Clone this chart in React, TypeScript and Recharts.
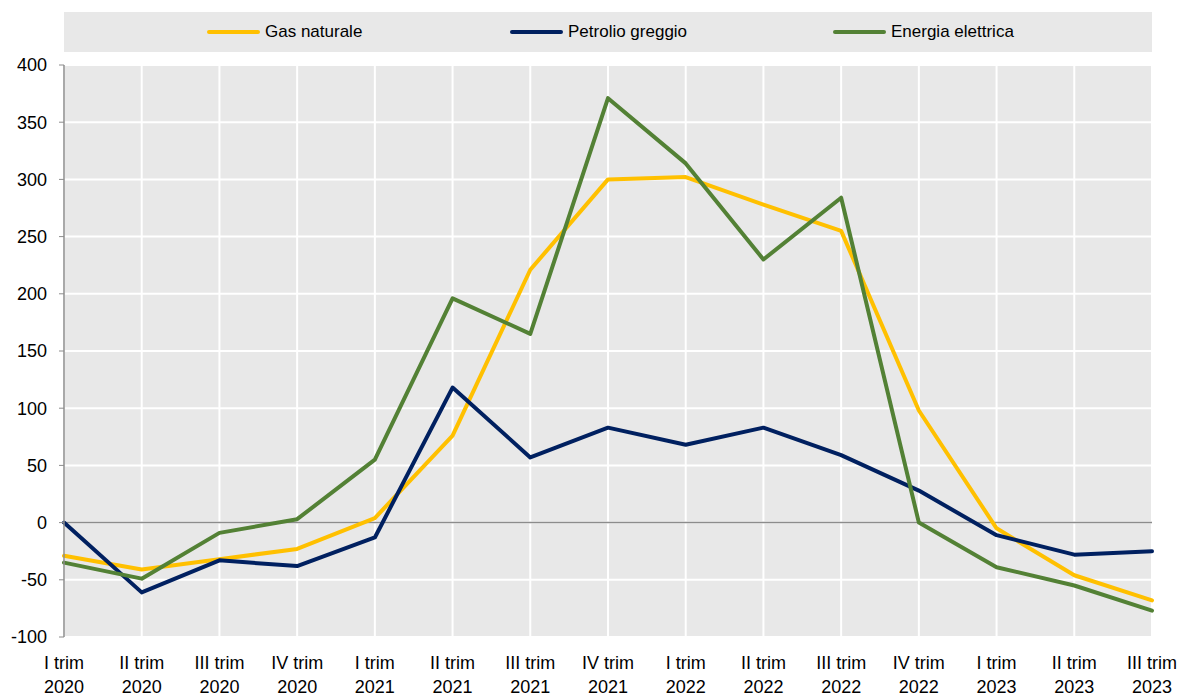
import React from 'react'
import {
  LineChart,
  Line,
  XAxis,
  YAxis,
  CartesianGrid,
  ReferenceLine,
} from 'recharts'

const quarters = ['I', 'II', 'III', 'IV', 'I', 'II', 'III', 'IV', 'I', 'II', 'III', 'IV', 'I', 'II', 'III']
const years = ['2020', '2020', '2020', '2020', '2021', '2021', '2021', '2021', '2022', '2022', '2022', '2022', '2023', '2023', '2023']

const gasNaturale = [-29, -41, -32, -23, 4, 76, 221, 300, 302, 278, 255, 98, -5, -46, -68]
const petrolioGreggio = [0, -61, -33, -38, -13, 118, 57, 83, 68, 83, 59, 28, -11, -28, -25]
const energiaElettrica = [-35, -49, -9, 3, 55, 196, 165, 371, 314, 230, 284, 0, -39, -55, -77]

const yTicks = [-100, -50, 0, 50, 100, 150, 200, 250, 300, 350, 400]

const series = [
  { key: 'gas', name: 'Gas naturale', color: '#FFC000' },
  { key: 'oil', name: 'Petrolio greggio', color: '#002060' },
  { key: 'elec', name: 'Energia elettrica', color: '#538135' },
]

const chartData = quarters.map((q, i) => ({
  label: `${q} trim|${years[i]}`,
  gas: gasNaturale[i],
  oil: petrolioGreggio[i],
  elec: energiaElettrica[i],
}))

const FONT = '"Liberation Sans", Arial, sans-serif'

// two-line category label: "I trim" / "2020"
const XTick = (props: any) => {
  const { x, y, payload } = props
  const [a, b] = String(payload.value).split('|')
  return (
    <g transform={`translate(${x},${y})`}>
      <text textAnchor="middle" fontSize={18} fill="#000" fontFamily={FONT}>
        <tspan x={0} y={19} dominantBaseline="middle">{a}</tspan>
        <tspan x={0} y={43} dominantBaseline="middle">{b}</tspan>
      </text>
    </g>
  )
}

export default function App() {
  return (
    <div style={{ position: 'absolute', left: 0, top: 0, width: 1179, height: 700, background: '#fff', fontFamily: FONT }}>
      <div
        style={{
          position: 'absolute',
          left: 64,
          top: 12,
          width: 1088,
          height: 40,
          background: '#e8e8e8',
        }}
      >
        {series.map((s, i) => (
          <div
            key={s.key}
            style={{
              position: 'absolute',
              left: [143, 446, 769][i],
              top: 0,
              height: 40,
              display: 'flex',
              alignItems: 'center',
              fontSize: 17,
              color: '#000',
            }}
          >
            <span style={{ display: 'inline-block', width: 53, height: 4, borderRadius: 2, background: s.color, marginRight: 5 }} />
            {s.name}
          </div>
        ))}
      </div>
      <LineChart
        width={1179}
        height={700}
        data={chartData}
        margin={{ top: 65, right: 27, left: 0, bottom: 3 }}
        style={{ position: 'absolute', left: 0, top: 0 }}
      >
        <CartesianGrid stroke="#ffffff" strokeWidth={2} fill="#e8e8e8" />
        <XAxis
          dataKey="label"
          interval={0}
          axisLine={false}
          tickLine={false}
          height={60}
          tick={<XTick />}
          padding={{ left: 0, right: 0 }}
        />
        <YAxis
          domain={[-100, 400]}
          ticks={yTicks}
          width={64}
          axisLine={{ stroke: '#8c8c8c', strokeWidth: 1.5 }}
          tickLine={{ stroke: '#8c8c8c' }}
          tickSize={5}
          tickMargin={12}
          tick={{ fontSize: 18, fill: '#000', fontFamily: FONT }}
          allowDataOverflow
        />
        <ReferenceLine y={0} stroke="#8c8c8c" strokeWidth={1.5} />
        {series.map(s => (
          <Line
            key={s.key}
            type="linear"
            dataKey={s.key}
            name={s.name}
            stroke={s.color}
            strokeWidth={4}
            dot={false}
            activeDot={false}
            isAnimationActive={false}
            strokeLinejoin="round"
            strokeLinecap="round"
          />
        ))}
      </LineChart>
    </div>
  )
}
